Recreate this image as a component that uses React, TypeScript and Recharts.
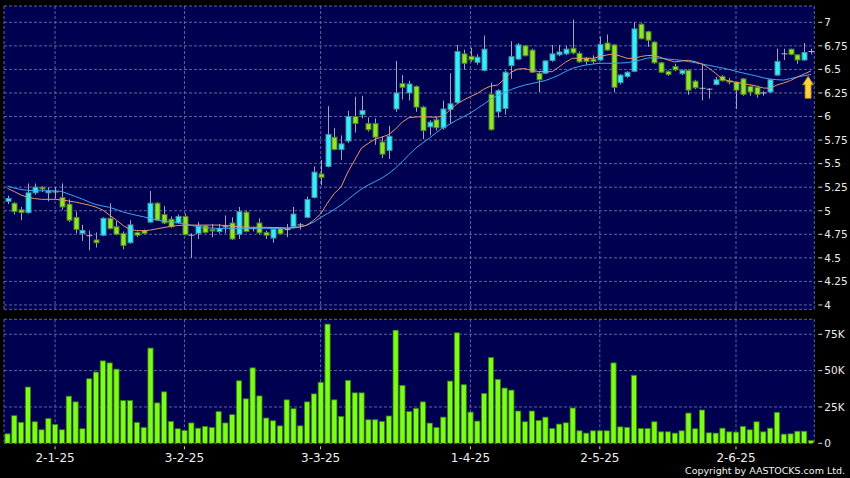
import React from 'react';
import {
  ComposedChart,
  Bar,
  Line,
  XAxis,
  YAxis,
  CartesianGrid,
  ReferenceDot,
} from 'recharts';

// daily OHLC
const opens = [
  5.1, 5.08, 5.01, 4.98, 5.19, 5.25, 5.19, 5.2, 5.14, 5.07,
  4.93, 4.76, 4.735, 4.69, 4.74, 4.92, 4.83, 4.76, 4.66, 4.77,
  4.79, 4.88, 5.08, 4.96, 4.91, 4.87, 4.94, 4.73, 4.76, 4.84,
  4.8, 4.78, 4.83, 4.87, 4.75, 4.985, 4.81, 4.87, 4.77, 4.71,
  4.81, 4.8, 4.83, 4.85, 4.93, 5.14, 5.39, 5.47, 5.78, 5.65,
  5.74, 6.0, 6.02, 5.925, 5.925, 5.73, 5.64, 6.08, 6.35, 6.25,
  6.32, 6.1, 5.89, 5.965, 5.88, 6.075, 6.15, 6.665, 6.64, 6.575,
  6.49, 6.235, 6.05, 6.085, 6.54, 6.61, 6.75, 6.705, 6.46, 6.46,
  6.595, 6.655, 6.665, 6.725, 6.67, 6.62, 6.61, 6.6, 6.78, 6.76,
  6.36, 6.425, 6.48, 6.98, 6.9, 6.79, 6.57, 6.48, 6.53, 6.455,
  6.49, 6.375, 6.3, 6.29, 6.34, 6.425, 6.38, 6.365, 6.4, 6.32,
  6.31, 6.25, 6.26, 6.44, 6.665, 6.715, 6.655, 6.6, 6.69,
];
const highs = [
  5.16, 5.09, 5.04, 5.29, 5.29, 5.26, 5.25, 5.25, 5.29, 5.12,
  4.99, 4.85, 4.79, 4.77, 4.93, 5.08, 4.89, 4.78, 4.9, 4.78,
  4.8, 5.21, 5.09, 5.05, 4.94, 4.96, 4.97, 4.76, 4.88, 4.85,
  4.86, 4.86, 4.95, 4.93, 5.04, 5.0, 4.83, 4.92, 4.79, 4.81,
  4.82, 4.86, 5.04, 4.87, 5.15, 5.47, 5.54, 6.11, 5.88, 5.8,
  6.06, 6.21, 6.22, 5.99, 5.98, 5.79, 5.9, 6.59, 6.44, 6.38,
  6.33, 6.11, 5.96, 5.99, 6.17, 6.46, 6.76, 6.71, 6.73, 6.66,
  6.86, 6.36, 6.29, 6.49, 6.8, 6.78, 6.76, 6.72, 6.47, 6.6,
  6.76, 6.76, 6.75, 7.03, 6.69, 6.63, 6.65, 6.85, 6.87, 6.77,
  6.45, 6.48, 7.0, 6.99, 6.91, 6.8, 6.58, 6.49, 6.56, 6.5,
  6.5, 6.39, 6.56, 6.3, 6.42, 6.44, 6.41, 6.37, 6.41, 6.33,
  6.32, 6.27, 6.4, 6.72, 6.72, 6.72, 6.66, 6.78, 6.72,
];
const lows = [
  5.07, 4.96, 4.9, 4.97, 5.17, 5.2, 5.1, 5.13, 5.01, 4.88,
  4.76, 4.68, 4.58, 4.61, 4.73, 4.8, 4.74, 4.59, 4.65, 4.72,
  4.75, 4.87, 4.89, 4.86, 4.82, 4.86, 4.74, 4.5, 4.7, 4.76,
  4.72, 4.76, 4.76, 4.69, 4.7, 4.77, 4.78, 4.75, 4.7, 4.66,
  4.75, 4.72, 4.82, 4.8, 4.92, 5.13, 5.27, 5.46, 5.64, 5.54,
  5.72, 5.83, 5.98, 5.84, 5.7, 5.56, 5.55, 6.05, 6.18, 6.17,
  6.05, 5.76, 5.8, 5.85, 5.86, 5.92, 6.14, 6.5, 6.58, 6.55,
  6.48, 5.85, 5.99, 6.02, 6.4, 6.6, 6.64, 6.46, 6.26, 6.45,
  6.58, 6.64, 6.65, 6.66, 6.57, 6.55, 6.56, 6.59, 6.7, 6.26,
  6.34, 6.41, 6.47, 6.82, 6.74, 6.56, 6.46, 6.43, 6.48, 6.44,
  6.23, 6.29, 6.17, 6.19, 6.33, 6.37, 6.34, 6.08, 6.22, 6.22,
  6.2, 6.22, 6.25, 6.43, 6.6, 6.65, 6.56, 6.59, 6.66,
];
const closes = [
  5.13, 4.99, 4.98, 5.19, 5.25, 5.23, 5.21, 5.19, 5.04, 4.9,
  4.8, 4.79, 4.735, 4.66, 4.92, 4.81, 4.75, 4.63, 4.85, 4.74,
  4.76, 5.08, 4.9, 4.87, 4.83, 4.94, 4.745, 4.74, 4.84, 4.77,
  4.785, 4.81, 4.83, 4.7, 4.99, 4.78, 4.8, 4.765, 4.74, 4.805,
  4.755, 4.8, 4.965, 4.84, 5.12, 5.41, 5.355, 5.81, 5.65, 5.71,
  6.0, 5.925, 6.065, 5.86, 5.78, 5.6, 5.79, 6.25, 6.31, 6.345,
  6.1, 5.85, 5.94, 5.88, 6.08, 6.135, 6.69, 6.565, 6.6, 6.63,
  6.715, 5.86, 6.275, 6.47, 6.635, 6.76, 6.645, 6.47, 6.39, 6.59,
  6.665, 6.685, 6.715, 6.675, 6.58, 6.585, 6.585, 6.765, 6.705, 6.31,
  6.44, 6.47, 6.93, 6.825, 6.81, 6.57, 6.47, 6.445, 6.495, 6.49,
  6.28, 6.305, 6.29, 6.29, 6.39, 6.38, 6.365, 6.28, 6.235, 6.26,
  6.235, 6.25, 6.39, 6.585, 6.665, 6.66, 6.6, 6.68, 6.69,
];
// moving averages as drawn (orange = short, blue = long)
const maShort = [
  5.238, 5.204, 5.167, 5.142, 5.129, 5.121, 5.121, 5.121, 5.114, 5.103,
  5.092, 5.076, 5.06, 5.039, 5.007, 4.954, 4.901, 4.843, 4.8, 4.79,
  4.788, 4.795, 4.809, 4.822, 4.834, 4.843, 4.848, 4.848, 4.848, 4.848,
  4.848, 4.848, 4.843, 4.838, 4.83, 4.827, 4.824, 4.824, 4.824, 4.822,
  4.822, 4.816, 4.822, 4.83, 4.848, 4.901, 4.965, 5.082, 5.183, 5.252,
  5.411, 5.538, 5.666, 5.715, 5.761, 5.782, 5.809, 5.867, 5.942, 5.989,
  5.995, 5.998, 5.995, 5.992, 6.005, 6.069, 6.133, 6.175, 6.212, 6.244,
  6.292, 6.324, 6.334, 6.398, 6.472, 6.504, 6.509, 6.488, 6.478, 6.476,
  6.476, 6.525, 6.579, 6.618, 6.618, 6.618, 6.618, 6.637, 6.653, 6.664,
  6.642, 6.618, 6.616, 6.637, 6.648, 6.648, 6.626, 6.6, 6.579, 6.589,
  6.597, 6.582, 6.557, 6.515, 6.459, 6.398, 6.377, 6.363, 6.35, 6.338,
  6.324, 6.303, 6.3, 6.334, 6.356, 6.382, 6.419, 6.451, 6.483,
];
const maLong = [
  5.262, 5.241, 5.225, 5.217, 5.212, 5.212, 5.212, 5.212, 5.204, 5.177,
  5.151, 5.124, 5.092, 5.066, 5.05, 5.036, 5.013, 4.986, 4.968, 4.951,
  4.936, 4.917, 4.901, 4.891, 4.883, 4.875, 4.859, 4.845, 4.83, 4.822,
  4.816, 4.813, 4.813, 4.813, 4.813, 4.813, 4.813, 4.813, 4.813, 4.813,
  4.813, 4.813, 4.816, 4.827, 4.848, 4.88, 4.928, 4.97, 5.013, 5.06,
  5.119, 5.177, 5.23, 5.273, 5.31, 5.347, 5.395, 5.453, 5.522, 5.597,
  5.666, 5.719, 5.772, 5.83, 5.883, 5.92, 5.963, 5.998, 6.037, 6.085,
  6.133, 6.186, 6.223, 6.255, 6.287, 6.313, 6.334, 6.35, 6.366, 6.382,
  6.409, 6.44, 6.478, 6.512, 6.531, 6.547, 6.557, 6.565, 6.565, 6.565,
  6.568, 6.571, 6.586, 6.6, 6.621, 6.624, 6.618, 6.61, 6.603, 6.597,
  6.584, 6.571, 6.557, 6.544, 6.529, 6.515, 6.499, 6.48, 6.462, 6.446,
  6.43, 6.411, 6.398, 6.391, 6.387, 6.403, 6.419, 6.433, 6.446,
];
// volume in thousands of shares
const volumesK = [
  6.5, 19, 14.4, 38.7, 14.8, 9.3, 17, 13, 9.3, 32.4,
  28.5, 10, 44.4, 49, 56.7, 55.3, 51, 29.4, 29.4, 14.4,
  10.9, 65.5, 27.8, 35.4, 15, 10, 8.8, 14, 10.4, 11.6,
  10.9, 21.8, 14, 19.7, 43, 30.6, 51.9, 32.6, 17.4, 15.5,
  12, 29.9, 23.8, 12, 28.5, 34, 42, 82, 29.9, 18.5,
  43.3, 34.7, 34.7, 16.2, 16.2, 15, 18.8, 77.8, 39.8, 21.8,
  24, 28.5, 13.9, 10.9, 18, 42.8, 76, 40.3, 21.5, 15.3,
  34.3, 59, 44, 38, 36.6, 22.2, 14.8, 22.2, 15.7, 18,
  10.2, 13.2, 14.1, 24.3, 8.6, 7, 8.6, 8.6, 8.6, 55.3,
  11.3, 11, 46.8, 10.2, 10.2, 14.8, 7.9, 7.9, 7, 8.6,
  20.8, 10, 22.9, 7.2, 7, 10.4, 7.9, 7.7, 11.6, 9.3,
  14.8, 7.9, 10.4, 21.3, 6.3, 6.5, 8.3, 8.3, 1.9,
];

const monthTicks = [7, 26, 46, 68, 87, 107];
const monthLabels = ['2-1-25', '3-2-25', '3-3-25', '1-4-25', '2-5-25', '2-6-25'];
const priceTicks = [4, 4.25, 4.5, 4.75, 5, 5.25, 5.5, 5.75, 6, 6.25, 6.5, 6.75, 7];
const volumeTicks = [0, 25000, 50000, 75000];

const data = opens.map((o, i) => ({
  idx: i,
  open: o,
  high: highs[i],
  low: lows[i],
  close: closes[i],
  maShort: maShort[i],
  maLong: maLong[i],
  vol: volumesK[i] * 1000,
}));

const GRID = '#5a66a0';
const PANEL = '#000050';
const FONT = 'DejaVu Sans, sans-serif';

const Candle = (props: any) => {
  const { x, y, width, height, payload } = props;
  const { open, close, high, low } = payload;
  const top = Math.min(y, y + height);
  const h = Math.abs(height);
  const range = high - low;
  const yOf = (v: number) => top + (range > 0 ? ((high - v) / range) * h : 0);
  const cx = Math.round(x + width / 2) + 0.5;
  const up = close >= open;
  const bTop = yOf(Math.max(open, close));
  const bBot = yOf(Math.min(open, close));
  return (
    <g>
      <line x1={cx} x2={cx} y1={top} y2={top + h} stroke="#a4a4b8" strokeWidth={1} />
      {bBot - bTop < 1 ? (
        <line x1={cx - 3} x2={cx + 3} y1={bTop} y2={bTop} stroke="#b8b8c8" strokeWidth={1} />
      ) : (
        <rect
          x={cx - 2.5}
          y={bTop}
          width={5}
          height={bBot - bTop}
          fill={up ? '#2ef0ff' : '#8ee62a'}
          stroke={up ? '#4d8c9c' : '#4f7f20'}
          strokeWidth={1}
        />
      )}
    </g>
  );
};

const VolumeBar = (props: any) => {
  const { x, y, width, height } = props;
  if (!height) return null;
  return (
    <rect
      x={x + 0.9}
      y={y}
      width={width - 1.8}
      height={height}
      fill="#7cfc1a"
      stroke="#3b7d0a"
      strokeWidth={0.8}
    />
  );
};

const Arrow = (props: any) => {
  const { cx, cy } = props;
  const ax = cx + 4;
  return (
    <path
      d={`M${ax},${cy - 11} L${ax + 5.5},${cy - 2.5} L${ax + 3},${cy - 2.5} L${ax + 3},${cy + 11} L${ax - 3},${cy + 11} L${ax - 3},${cy - 2.5} L${ax - 5.5},${cy - 2.5} Z`}
      fill="#ffd23c"
      stroke="#b88a00"
      strokeWidth={0.8}
    />
  );
};

const PriceTick = ({ x, y, payload }: any) => (
  <g>
    <line x1={x + 4} x2={x + 8} y1={y} y2={y} stroke="#d8d8d8" />
    <text x={x + 10} y={y} dy={3.8} fill="#ececec" fontSize={10.5} fontFamily={FONT}>
      {payload.value}
    </text>
  </g>
);

const VolumeTick = ({ x, y, payload }: any) => (
  <g>
    <line x1={x + 4} x2={x + 8} y1={y} y2={y} stroke="#d8d8d8" />
    <text x={x + 10} y={y} dy={3.8} fill="#ececec" fontSize={10.5} fontFamily={FONT}>
      {payload.value === 0 ? '0' : `${payload.value / 1000}K`}
    </text>
  </g>
);

const DateTick = ({ x, y, payload }: any) => (
  <g>
    <line x1={x} x2={x} y1={y + 3} y2={y + 6} stroke="#cccccc" />
    <text x={x} y={y + 18.5} textAnchor="middle" fill="#eeeeee" fontSize={12} fontFamily={FONT}>
      {monthLabels[monthTicks.indexOf(payload.value)]}
    </text>
  </g>
);

export default function App() {
  return (
    <div
      style={{
        position: 'absolute',
        left: 0,
        top: 0,
        width: 850,
        height: 478,
        background: '#000',
        overflow: 'hidden',
      }}
    >
      <div style={{ position: 'absolute', left: 0, top: 0 }}>
        <ComposedChart
          width={850}
          height={316}
          data={data}
          margin={{ top: 6, right: 0, bottom: 6.7, left: 4 }}
          barCategoryGap={0}
        >
          <CartesianGrid fill={PANEL} fillOpacity={1} stroke={GRID} strokeDasharray="3 2" />
          <XAxis dataKey="idx" type="category" hide ticks={monthTicks} interval={0} />
          <YAxis
            orientation="right"
            type="number"
            width={35.7}
            domain={[3.954, 7.173]}
            allowDataOverflow
            ticks={priceTicks}
            interval={0}
            axisLine={false}
            tickLine={false}
            tickSize={0}
            tickMargin={0}
            tick={<PriceTick />}
          />
          <Bar
            dataKey={(d: any) => [d.low, d.high]}
            shape={<Candle />}
            isAnimationActive={false}
          />
          <Line
            dataKey="maLong"
            stroke="#3ea6f2"
            strokeWidth={1}
            dot={false}
            isAnimationActive={false}
          />
          <Line
            dataKey="maShort"
            stroke="#e8946a"
            strokeWidth={1}
            dot={false}
            isAnimationActive={false}
          />
          <ReferenceDot x={117} y={6.31} r={0} shape={<Arrow />} />
        </ComposedChart>
      </div>
      <div style={{ position: 'absolute', left: 0, top: 312 }}>
        <ComposedChart
          width={850}
          height={166}
          data={data}
          margin={{ top: 7.3, right: 0, bottom: 0, left: 4 }}
          barCategoryGap={0}
        >
          <CartesianGrid fill={PANEL} fillOpacity={1} stroke={GRID} strokeDasharray="3 2" />
          <XAxis
            dataKey="idx"
            type="category"
            height={34.7}
            ticks={monthTicks}
            interval={0}
            axisLine={false}
            tickLine={false}
            tickSize={0}
            tickMargin={0}
            tick={<DateTick />}
          />
          <YAxis
            orientation="right"
            type="number"
            width={35.7}
            domain={[0, 85300]}
            allowDataOverflow
            ticks={volumeTicks}
            interval={0}
            axisLine={false}
            tickLine={false}
            tickSize={0}
            tickMargin={0}
            tick={<VolumeTick />}
          />
          <Bar dataKey="vol" shape={<VolumeBar />} isAnimationActive={false} />
        </ComposedChart>
      </div>
      <div
        style={{
          position: 'absolute',
          right: 5,
          top: 465,
          color: '#f0f0f0',
          fontSize: 9.5,
          lineHeight: '11px',
          fontFamily: FONT,
          whiteSpace: 'nowrap',
        }}
      >
        Copyright by AASTOCKS.com Ltd.
      </div>
    </div>
  );
}
